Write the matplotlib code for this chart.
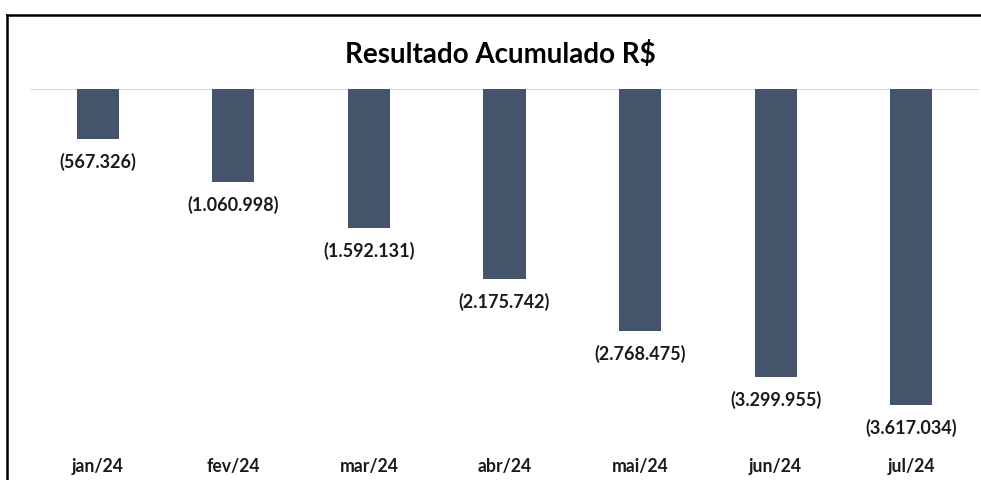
import matplotlib.pyplot as plt
from matplotlib.lines import Line2D

meses = ["jan/24", "fev/24", "mar/24", "abr/24", "mai/24", "jun/24", "jul/24"]
resultado = [-567326, -1060998, -1592131, -2175742, -2768475, -3299955, -3617034]
rotulos = ["(567.326)", "(1.060.998)", "(1.592.131)", "(2.175.742)",
           "(2.768.475)", "(3.299.955)", "(3.617.034)"]

plt.rcParams["font.family"] = ["Lato", "DejaVu Sans"]

fig = plt.figure(figsize=(9.81, 4.8), dpi=100)
ax = fig.add_axes([30 / 981, 1 - 450 / 480, 949 / 981, (450 - 89) / 480])

x = list(range(len(meses)))
ax.bar(x, resultado, width=0.31, color="#44546A", zorder=2)
ax.axhline(0, color="#D9D9D9", lw=1.5, zorder=1)

for xi, v, r in zip(x, resultado, rotulos):
    ax.annotate(r, (xi, v), xytext=(0, -10), textcoords="offset points",
                ha="center", va="top", fontsize=13, fontweight="bold", color="#1a1a1a")

ax.set_xlim(-0.5, 6.5)
ax.set_ylim(-(450 - 89) / 87.4 * 1e6, 0)
ax.set_xticks(x)
ax.set_xticklabels(meses, fontsize=12.7, fontweight="bold", color="#1a1a1a")
ax.tick_params(axis="x", length=0, pad=6)
ax.set_yticks([])
for s in ax.spines.values():
    s.set_visible(False)

fig.text(0.51, 1 - 55 / 480, "Resultado Acumulado R$", ha="center", va="center",
         fontsize=20, fontweight="bold", color="#000000")

# moldura
fig.add_artist(Line2D([7 / 981, 1], [1 - 15 / 480] * 2, color="black", lw=1.8))
fig.add_artist(Line2D([7 / 981] * 2, [0, 1 - 15 / 480], color="black", lw=1.8))

fig.savefig("out.png", dpi=100)
